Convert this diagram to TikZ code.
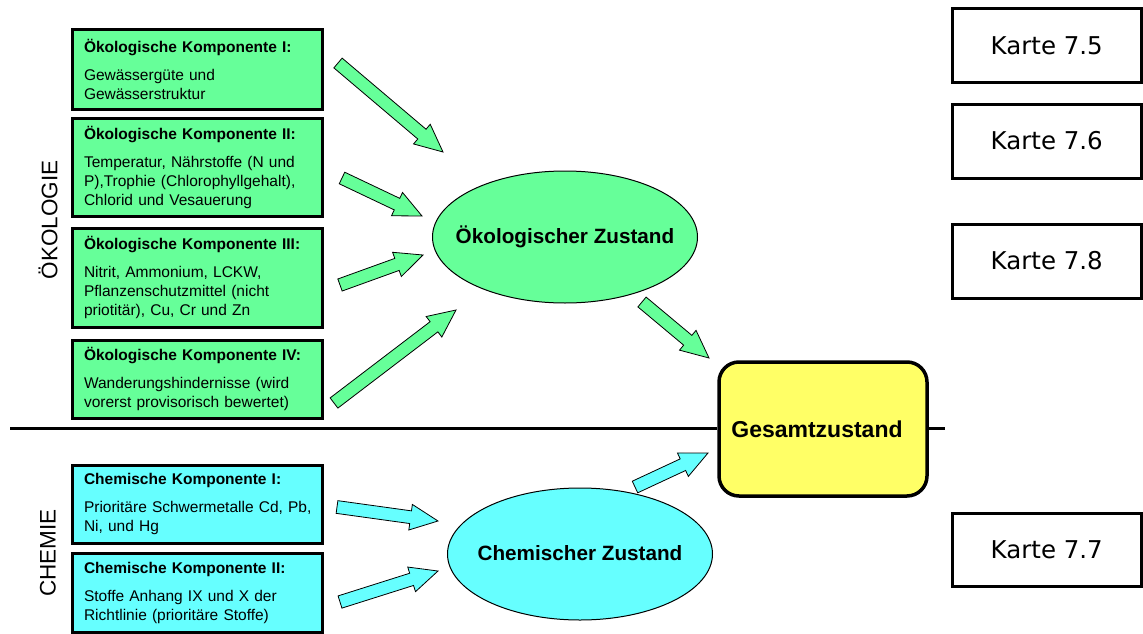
\documentclass[tikz,border=0pt]{standalone}
\usepackage{fontspec}
\setmainfont{Liberation Sans}
\newfontfamily\kartefont{DejaVu Sans}
\usetikzlibrary{shapes.geometric,shapes.arrows,calc}
\definecolor{oekogreen}{HTML}{66FF99}
\definecolor{chemcyan}{HTML}{66FFFF}
\definecolor{gelb}{HTML}{FFFF66}
\newcommand\blockarrow[4]{%
  \path let \p1=(#2), \p2=(#3),
    \n1={atan2(\y2-\y1,\x2-\x1)}, \n2={veclen(\x2-\x1,\y2-\y1)} in
    node[barrow, fill=#4, rotate=\n1, minimum height=\n2, anchor=tail] (#1) at (#2) {};}
\begin{document}
\begin{tikzpicture}[x=1pt,y=-1pt,
  kbox/.style={draw, line width=3pt, anchor=north west, inner xsep=12pt, inner ysep=0pt,
    outer sep=0pt, align=left, text width=226pt, font=\fontsize{15.5}{19}\selectfont},
  zell/.style={ellipse, draw, line width=1pt, inner sep=0pt, minimum width=265pt,
    minimum height=132pt, font=\bfseries\fontsize{20.7}{24}\selectfont},
  kartebox/.style={draw, line width=3pt, minimum width=189.5pt, inner sep=0pt,
    font=\kartefont\fontsize{24.5}{28}\selectfont},
  sidelabel/.style={rotate=90, font=\fontsize{22.5}{26}\selectfont},
  barrow/.style={single arrow, draw, line width=0.8pt, inner xsep=0pt, inner ysep=6pt,
    outer sep=0pt, single arrow head extend=6.5pt, single arrow tip angle=50},
  sepline/.style={line width=3pt}]
\useasboundingbox (0,0) rectangle (1143,634);

% ecological component boxes
\node[kbox, fill=oekogreen, minimum height=79pt] (k1) at (72,30)
  {\textbf{Ökologische Komponente I:}\\[9pt]Gewässergüte und\\Gewässerstruktur};
\node[kbox, fill=oekogreen, minimum height=98pt] (k2) at (72,118)
  {\textbf{Ökologische Komponente II:}\\[9pt]Temperatur, Nährstoffe (N und\\P),Trophie (Chlorophyllgehalt),\\Chlorid und Vesauerung};
\node[kbox, fill=oekogreen, minimum height=99pt] (k3) at (72,228)
  {\textbf{Ökologische Komponente III:}\\[9pt]Nitrit, Ammonium, LCKW,\\Pflanzenschutzmittel (nicht\\priotitär), Cu, Cr und Zn};
\node[kbox, fill=oekogreen, minimum height=78pt] (k4) at (72,340)
  {\textbf{Ökologische Komponente IV:}\\[9pt]Wanderungshindernisse (wird\\vorerst provisorisch bewertet)};

% chemical component boxes
\node[kbox, fill=chemcyan, minimum height=78pt] (c1) at (72,465)
  {\textbf{Chemische Komponente I:}\\[9pt]\mbox{Prioritäre Schwermetalle Cd, Pb,}\\Ni, und Hg};
\node[kbox, fill=chemcyan, minimum height=79pt] (c2) at (72,553)
  {\textbf{Chemische Komponente II:}\\[9pt]Stoffe Anhang IX und X der\\Richtlinie (prioritäre Stoffe)};

% side labels
\node[sidelabel] (oeklabel) at (48,220) {ÖKOLOGIE};
\node[sidelabel] (chemlabel) at (48,553) {CHEMIE};

% states
\node[zell, fill=oekogreen] (oz) at (565,237) {\makebox[0pt]{\raisebox{3pt}{Ökologischer Zustand}}};
\node[zell, fill=chemcyan] (cz) at (580,554) {\makebox[0pt]{\raisebox{3pt}{Chemischer Zustand}}};
\node[draw, line width=3.5pt, rounded corners=20pt, fill=gelb, minimum width=208pt,
  minimum height=134pt, inner sep=0pt, font=\bfseries\fontsize{23}{27}\selectfont]
  (gz) at (823,429) {\kern-12pt Gesamtzustand};

% separator line
\coordinate (lineL) at (10,428);
\coordinate (lineR) at (945,428);
\draw[sepline] (lineL) -- (gz.west |- lineL);
\draw[sepline] (gz.east |- lineR) -- (lineR);

% map boxes
\node[kartebox, minimum height=73pt] (m5) at (1046.75,45.5) {Karte 7.5};
\node[kartebox, minimum height=74pt] (m6) at (1046.75,141) {Karte 7.6};
\node[kartebox, minimum height=74pt] (m8) at (1046.75,261) {Karte 7.8};
\node[kartebox, minimum height=73pt] (m7) at (1046.75,549.5) {Karte 7.7};

% block arrows
\coordinate (t1) at (338,63);  \coordinate (h1) at (443,152);
\coordinate (t2) at (342,178); \coordinate (h2) at (422,216);
\coordinate (t3) at (340,285); \coordinate (h3) at (423,255);
\coordinate (t4) at (334,403); \coordinate (h4) at (456,310);
\coordinate (t5) at (642,302); \coordinate (h5) at (709,358);
\coordinate (t6) at (337,507); \coordinate (h6) at (438,521);
\coordinate (t7) at (340,602); \coordinate (h7) at (438,571);
\coordinate (t8) at (635,487); \coordinate (h8) at (708,453);
\blockarrow{a1}{t1}{h1}{oekogreen}
\blockarrow{a2}{t2}{h2}{oekogreen}
\blockarrow{a3}{t3}{h3}{oekogreen}
\blockarrow{a4}{t4}{h4}{oekogreen}
\blockarrow{a5}{t5}{h5}{oekogreen}
\blockarrow{a6}{t6}{h6}{chemcyan}
\blockarrow{a7}{t7}{h7}{chemcyan}
\blockarrow{a8}{t8}{h8}{chemcyan}
\end{tikzpicture}
\end{document}
